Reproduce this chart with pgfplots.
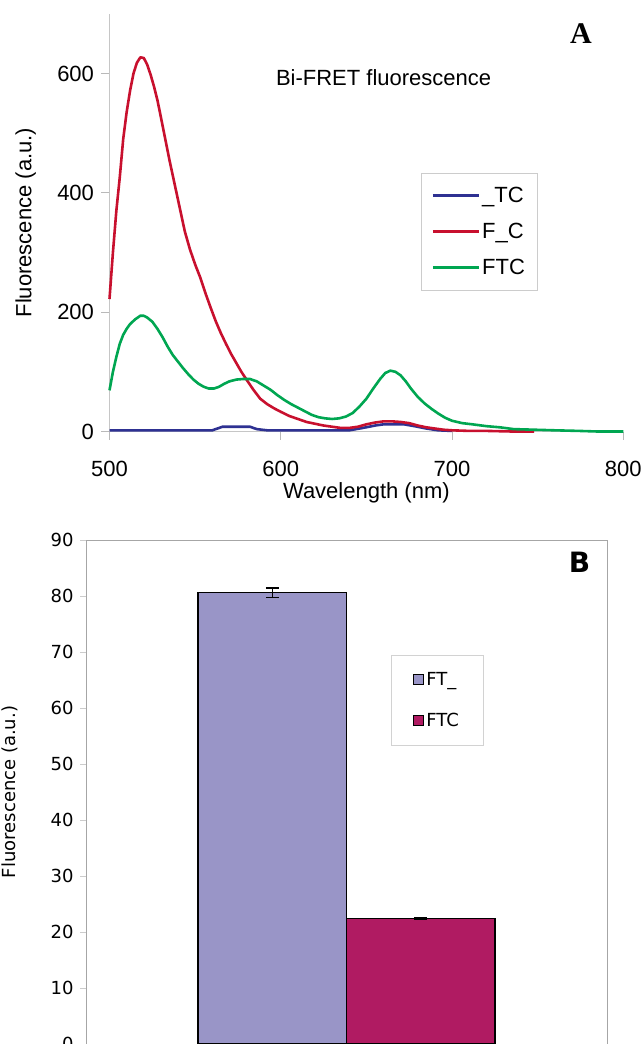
\documentclass[border=0pt]{standalone}
\usepackage{fontspec}
\setmainfont{Liberation Sans}
\newfontfamily\verd{DejaVu Sans}
\newfontfamily\tnr{Liberation Serif}
\usepackage{pgfplots}
\pgfplotsset{compat=1.18}
\definecolor{tcblue}{RGB}{46,49,146}
\definecolor{fcred}{RGB}{200,16,46}
\definecolor{ftcgreen}{RGB}{0,166,81}
\definecolor{barlav}{RGB}{153,149,199}
\definecolor{barmag}{RGB}{176,27,98}
\newcommand{\fa}{\fontsize{22}{26}\selectfont}
\newcommand{\fb}{\verd\fontsize{18}{22}\selectfont}

\begin{document}
\begin{tikzpicture}
\useasboundingbox (0pt,0pt) rectangle (644pt,-1044pt);
\clip (0pt,0pt) rectangle (644pt,-1044pt);

% ---- panel A: spectra
\begin{axis}[
    at={(109.5pt,-431.5pt)}, anchor=south west,
    scale only axis, width=513.8pt, height=417.7pt,
    xmin=500, xmax=800, ymin=0, ymax=700,
    xtick={500,600,700,800}, ytick={0,200,400,600},
    axis x line=bottom, axis y line=left,
    axis line style={draw=gray!45, line width=0.8pt, -},
    tick align=outside, major tick length=8pt,
    tick style={draw=gray!55, line width=0.8pt},
    /pgf/number format/assume math mode=true,
    ticklabel style={font=\fa},
    xticklabel style={yshift=-18pt},
    yticklabel style={xshift=-4pt},
    xlabel={Wavelength (nm)},
    xlabel style={font=\fa, at={(axis description cs:0.5,-0.1472)}, anchor=center},
    ylabel={Fluorescence (a.u.)},
    ylabel style={font=\fa, at={(axis description cs:-0.1633,0.5)}, anchor=center},
    clip=false,
    legend cell align=left,
    legend image code/.code={\draw[#1, line width=2.8pt] (0pt,0pt) -- (46pt,0pt);},
    legend style={at={(axis description cs:0.6063,0.6189)}, anchor=north west,
        draw=gray!40, line width=0.8pt, fill=white, font=\fa,
        inner xsep=10pt, inner ysep=12pt, row sep=15pt,
        nodes={inner sep=2pt}},
    every axis plot/.append style={line width=2.6pt, line join=round},
]
\addplot[color=tcblue] coordinates {
(500,2)(560,2)(563,5)(566,8)(582,8)(586,4)(592,2)(640,2)(648,6)(655,10)
(660,12)(672,12)(678,9)(685,5)(692,2)(700,1)
};
\addlegendentry{\_TC}
\addplot[color=fcred] coordinates {
(500,222)(502,300)(504,370)(506,426)(508,490)(510,535)(512,571)(514,600)
(516,618)(518,627)(520,626)(522,615)(524,598)(526,578)(528,555)(530,527)
(532,498)(535,455)(538,415)(541,375)(544,335)(547,305)(550,280)(553,258)
(556,232)(559,208)(562,185)(565,165)(568,147)(571,130)(574,115)(577,100)
(580,87)(584,70)(588,55)(592,46)(596,39)(600,33)(605,26)(610,21)(615,16)
(620,13)(625,10)(630,8)(635,6)(640,6)(645,8)(650,12)(655,15)(660,17)
(665,17)(670,16)(675,14)(680,10)(685,7)(690,5)(695,3)(700,2)(710,1)
(720,1)(735,0)(748,0)
};
\addlegendentry{F\_C}
\addplot[color=ftcgreen] coordinates {
(500,69)(502,100)(504,125)(506,147)(508,162)(510,172)(512,180)(515,188)
(518,194)(520,194)(522,191)(525,184)(528,172)(531,158)(534,142)(537,128)
(540,117)(543,106)(546,96)(549,87)(552,80)(555,75)(558,72)(561,72)
(564,75)(567,80)(570,84)(574,87)(578,88)(582,88)(586,84)(590,77)(594,70)
(598,61)(602,53)(606,46)(610,40)(614,34)(618,28)(622,24)(626,22)(630,21)
(634,22)(638,25)(642,31)(646,42)(650,55)(654,72)(658,88)(661,98)(664,102)
(667,100)(670,94)(673,84)(676,72)(680,58)(684,47)(688,38)(692,30)(696,23)
(700,18)(706,14)(712,12)(720,9)(728,7)(736,4)(748,3)(760,2)(774,1)(785,0)
(800,0)
};
\addlegendentry{FTC}
\node[font=\fa] at (axis description cs:0.5335,0.8463) {Bi-FRET fluorescence};
\node[font=\tnr\bfseries\fontsize{30}{34}\selectfont] at (axis description cs:0.9177,0.9516) {A};
\end{axis}

% ---- panel B: bars
\begin{axis}[
    at={(86pt,-1044pt)}, anchor=south west,
    scale only axis, width=521pt, height=504pt,
    xmin=-1, xmax=1, ymin=0, ymax=90,
    xtick=\empty, ytick={0,10,...,90}, ytick pos=left,
    axis line style={draw=gray!70, line width=1pt},
    tick align=outside, major tick length=6pt,
    tick style={draw=gray!40, line width=0.8pt},
    /pgf/number format/assume math mode=true,
    ticklabel style={font=\fb},
    yticklabel style={xshift=-3pt},
    ylabel={Fluorescence (a.u.)},
    ylabel style={font=\fb, at={(axis description cs:-0.1459,0.5)}, anchor=center},
    ybar, bar width=0.57, bar shift=0pt,
    clip=false,
    legend cell align=left,
    legend image code/.code={\draw[#1, line width=1pt] (0pt,-5pt) rectangle (10pt,5pt);},
    legend style={at={(axis description cs:0.5854,0.7718)}, anchor=north west,
        draw=gray!35, line width=0.8pt, fill=white, font=\fb,
        inner xsep=22pt, inner ysep=15pt, row sep=22pt,
        nodes={inner sep=2pt}},
]
\addplot[fill=barlav, draw=black, line width=1.2pt,
    error bars/.cd, y dir=both, y explicit,
    error bar style={line width=1.4pt, black},
    error mark options={rotate=90, mark size=6.5pt, line width=1.4pt, black}]
    coordinates {(-0.285,80.6) +- (0,0.85)};
\addlegendentry{FT\_}
\addplot[fill=barmag, draw=black, line width=1.2pt,
    error bars/.cd, y dir=both, y explicit,
    error bar style={line width=1.4pt, black},
    error mark options={rotate=90, mark size=6.5pt, line width=1.4pt, black}]
    coordinates {(0.285,22.4) +- (0,0.2)};
\addlegendentry{FTC}
\node[font=\verd\bfseries\fontsize{28}{32}\selectfont] at (axis description cs:0.9472,0.9563) {B};
\end{axis}
\end{tikzpicture}
\end{document}
